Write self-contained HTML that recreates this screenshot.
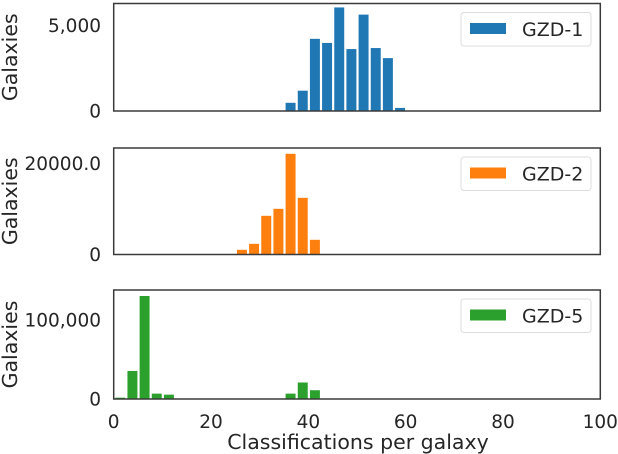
<!DOCTYPE html>
<html><head><meta charset="utf-8"><style>
body{margin:0;background:#fff;}
svg{display:block;font-family:"DejaVu Sans","Liberation Sans",sans-serif;}
</style></head><body>
<svg id="chart" width="618" height="454"></svg>
<script>
const binCenters = [1.35,3.85,6.35,8.85,11.35,13.85,16.35,18.85,21.35,23.85,26.35,28.85,31.35,33.85,36.35,38.85,41.35,43.85,46.35,48.85,51.35,53.85,56.35,58.85];
const gzd1Bins = [14,15,16,17,18,19,20,21,22,23];
const gzd1Values = [480,1190,4230,3990,6070,3630,5650,3690,3100,180];
const gzd2Bins = [10,11,12,13,14,15,16];
const gzd2Values = [1030,2350,8500,10040,22130,12460,3230];
const gzd5Bins = [0,1,2,3,4,14,15,16];
const gzd5Values = [1700,35500,130400,6800,5500,6800,20900,11100];
const xTicks = [0,20,40,60,80,100];
const panelNames = ['GZD-1','GZD-2','GZD-5'];
const yTickLabels = [['0','5,000'],['0','20000.0'],['0','100,000']];
const yTickValues = [[0,5000],[0,20000],[0,100000]];

const NS='http://www.w3.org/2000/svg';
const svg=document.getElementById('chart');
function mk(tag,attrs,parent){const e=document.createElementNS(NS,tag);for(const k in attrs)e.setAttribute(k,attrs[k]);(parent||svg).appendChild(e);return e;}
const X0=113.7,X1=600.3;
const xs=v=>X0+(v/100)*(X1-X0);
const panels=[
 {top:3.5,bot:111,scale:85.3/5000,bins:gzd1Bins,vals:gzd1Values,color:'#1f77b4'},
 {top:148,bot:254.5,scale:91/20000,bins:gzd2Bins,vals:gzd2Values,color:'#ff7f0e'},
 {top:290,bot:399,scale:79/100000,bins:gzd5Bins,vals:gzd5Values,color:'#2ca02c'}
];
const barW=2.05*(X1-X0)/100;
panels.forEach((p,pi)=>{
  const g=mk('g',{});
  
  
  const ys=v=>p.bot-v*p.scale;
  p.bins.forEach((b,i)=>{
    const y=ys(p.vals[i]);
    const r=mk('rect',{x:xs(binCenters[b])-barW/2,y:y,width:barW,height:p.bot-y,fill:p.color},g);
    
    
  });
  const f=mk('rect',{x:X0,y:p.top,width:X1-X0,height:p.bot-p.top,fill:'none',stroke:'#3a3a3a','stroke-width':1.5},g);
  
  
  yTickValues[pi].forEach((v,i)=>{
    const t=mk('text',{x:101,y:ys(v)+6.5,'text-anchor':'end','font-size':18.5,fill:'#262626'},g);
    t.textContent=yTickLabels[pi][i];
    
    
  });
  const cy=(p.top+p.bot)/2;
  const yl=mk('text',{x:0,y:0,transform:`translate(17,${cy}) rotate(-90)`,'text-anchor':'middle','font-size':20.5,fill:'#262626'},g);
  yl.textContent='Galaxies';
  
  
  const lg=mk('g',{},g);
  
  
  const ly=p.top+9;
  mk('rect',{x:461,y:ly,width:130,height:33.5,rx:3,fill:'#fff',stroke:'#ddd','stroke-width':1},lg);
  mk('rect',{x:470,y:ly+10.5,width:36,height:11,fill:p.color},lg);
  const lt=mk('text',{x:522,y:ly+23.5,'font-size':19,fill:'#262626'},lg);
  lt.textContent=panelNames[pi];
  
  
});
xTicks.forEach(v=>{
  const t=mk('text',{x:xs(v),y:428,'text-anchor':'middle','font-size':18.5,fill:'#262626'});
  t.textContent=String(v);
  
  
});
const xl=mk('text',{x:358,y:449,'text-anchor':'middle','font-size':20.5,fill:'#262626'});
xl.textContent='Classifications per galaxy';


</script>
</body></html>
